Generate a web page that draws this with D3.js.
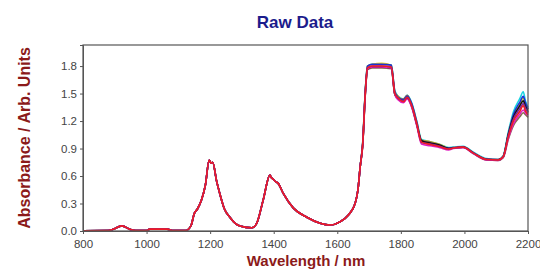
<!DOCTYPE html>
<html>
<head>
<meta charset="utf-8">
<style>
  body { margin: 0; background: #fff; }
  text { font-family: Arial, "Liberation Sans", sans-serif; }
</style>
</head>
<body>
<svg id="chart" width="540" height="271"></svg>
<script src="https://cdn.jsdelivr.net/npm/d3@7"></script>
<script>
    // shared part of all spectra (curves overlap up to ~1680 nm)
    const wlCommon = [800, 880, 895, 922, 950, 965, 1000, 1010, 1065, 1080, 1124, 1140, 1150, 1160, 1173, 1185,
        1197, 1203, 1208, 1220, 1231, 1245, 1262, 1280, 1294, 1331, 1346, 1367, 1388, 1393, 1399, 1405, 1414,
        1430, 1462, 1504, 1546, 1577, 1608, 1635, 1656, 1665, 1672];
    const absCommon = [0.003, 0.005, 0.02, 0.056, 0.015, 0.004, 0.005, 0.02, 0.02, 0.005, 0.006, 0.06, 0.19, 0.24,
        0.34, 0.5, 0.775, 0.74, 0.75, 0.55, 0.4, 0.24, 0.15, 0.08, 0.055, 0.035, 0.08, 0.34, 0.61, 0.58, 0.565,
        0.54, 0.52, 0.41, 0.25, 0.15, 0.085, 0.065, 0.1, 0.175, 0.3, 0.45, 0.7];

    // per-sample part, 1680 - 2200 nm
    const wlTail = [1680, 1688, 1695, 1710, 1740, 1770, 1781, 1792, 1808, 1820, 1834, 1850, 1865, 1892, 1923,
        1950, 1965, 1996, 2028, 2070, 2106, 2122, 2138, 2154, 2175, 2185, 2192, 2200];

    const sampleCyan    = [0.97, 1.53, 1.80, 1.82, 1.82, 1.81, 1.53, 1.47, 1.44, 1.48, 1.40, 1.20, 1.00, 0.975, 0.945, 0.91, 0.915, 0.925, 0.86, 0.79, 0.78, 0.82, 1.08, 1.30, 1.45, 1.52, 1.42, 1.35];
    const sampleYellow  = [0.96, 1.52, 1.80, 1.82, 1.83, 1.81, 1.52, 1.47, 1.43, 1.47, 1.38, 1.19, 0.99, 0.975, 0.945, 0.905, 0.91, 0.92, 0.855, 0.785, 0.78, 0.815, 1.06, 1.26, 1.39, 1.45, 1.39, 1.32];
    const sampleBrown   = [0.93, 1.48, 1.76, 1.78, 1.78, 1.77, 1.49, 1.45, 1.44, 1.48, 1.38, 1.17, 0.99, 0.97, 0.94, 0.90, 0.905, 0.915, 0.845, 0.775, 0.77, 0.80, 1.00, 1.15, 1.25, 1.29, 1.27, 1.24];
    const sampleBlue    = [0.96, 1.52, 1.80, 1.82, 1.82, 1.81, 1.52, 1.46, 1.43, 1.47, 1.39, 1.19, 0.98, 0.955, 0.93, 0.905, 0.91, 0.92, 0.855, 0.785, 0.78, 0.815, 1.06, 1.27, 1.41, 1.47, 1.40, 1.33];
    const sampleBlack   = [0.94, 1.49, 1.77, 1.79, 1.79, 1.78, 1.49, 1.44, 1.42, 1.45, 1.36, 1.16, 0.985, 0.96, 0.935, 0.90, 0.905, 0.915, 0.85, 0.78, 0.775, 0.81, 1.05, 1.24, 1.37, 1.42, 1.36, 1.30];
    const sampleMagenta = [0.94, 1.49, 1.77, 1.79, 1.79, 1.78, 1.49, 1.43, 1.40, 1.44, 1.35, 1.15, 0.95, 0.93, 0.91, 0.885, 0.90, 0.91, 0.845, 0.775, 0.77, 0.805, 1.01, 1.17, 1.28, 1.32, 1.29, 1.26];
    const samplePurple  = [0.95, 1.50, 1.78, 1.80, 1.80, 1.79, 1.50, 1.45, 1.42, 1.46, 1.37, 1.17, 0.965, 0.95, 0.925, 0.895, 0.905, 0.915, 0.85, 0.78, 0.775, 0.81, 1.04, 1.22, 1.34, 1.39, 1.34, 1.29];
    const sampleRed     = [0.95, 1.50, 1.78, 1.80, 1.80, 1.79, 1.50, 1.45, 1.41, 1.46, 1.37, 1.17, 0.97, 0.945, 0.92, 0.895, 0.905, 0.915, 0.85, 0.78, 0.775, 0.81, 1.03, 1.20, 1.31, 1.37, 1.31, 1.27];

    const samples = [sampleCyan, sampleYellow, sampleBrown, sampleBlue, sampleBlack, sampleMagenta, samplePurple, sampleRed];
    const sampleColors = ['#19d3e0', '#e8d21c', '#8a6a52', '#1c2fd6', '#111111', '#e01cc0', '#7a2a9a', '#ee1c24'];

    const xTicks = [800, 1000, 1200, 1400, 1600, 1800, 2000, 2200];
    const yTicks = [0.0, 0.3, 0.6, 0.9, 1.2, 1.5, 1.8];

    const plotL = 83, plotR = 528, plotT = 45, plotB = 231;

    const svg = d3.select('#chart');

    const x = d3.scaleLinear().domain([800, 2200]).range([plotL, plotR]);
    const y = d3.scaleLinear().domain([0, 2.03]).range([plotB, plotT]);

    // spectra
    const line = d3.line()
        .x(function(d) { return x(d[0]); })
        .y(function(d) { return y(d[1]); })
        .curve(d3.curveMonotoneX);

    const series = samples.map(function(tail) {
        const pts = wlCommon.map(function(w, i) { return [w, absCommon[i]]; });
        return pts.concat(wlTail.map(function(w, i) { return [w, tail[i]]; }));
    });

    svg.append('g')
        .selectAll('path')
        .data(series)
        .join('path')
        .attr('d', line)
        .attr('fill', 'none')
        .attr('stroke', function(d, i) { return sampleColors[i]; })
        .attr('stroke-width', 1.6)
        .attr('stroke-linejoin', 'round');

    // box
    svg.append('rect')
        .attr('x', plotL).attr('y', plotT)
        .attr('width', plotR - plotL).attr('height', plotB - plotT)
        .attr('fill', 'none')
        .attr('stroke', '#555')
        .attr('stroke-width', 1.2);

    // axes
    const xAxis = svg.append('g')
        .attr('transform', 'translate(0,' + plotB + ')')
        .call(d3.axisBottom(x).tickValues(xTicks).tickFormat(d3.format('d')).tickSize(3).tickPadding(6));
    const yAxis = svg.append('g')
        .attr('transform', 'translate(' + plotL + ',0)')
        .call(d3.axisLeft(y).tickValues(yTicks).tickFormat(d3.format('.1f')).tickSize(3).tickPadding(3));

    [xAxis, yAxis].forEach(function(a) {
        a.select('.domain').attr('stroke', '#555');
        a.selectAll('.tick line').attr('stroke', '#555');
        a.selectAll('.tick text')
            .attr('fill', '#444')
            .style('font-size', '11.5px')
            .style('font-family', 'Arial, "Liberation Sans", sans-serif');
    });

    // titles
    svg.append('text')
        .attr('x', 295).attr('y', 28)
        .attr('text-anchor', 'middle')
        .attr('fill', '#1c1c8c')
        .style('font-size', '17px')
        .style('font-weight', 'bold')
        .text('Raw Data');

    svg.append('text')
        .attr('x', 306).attr('y', 266)
        .attr('text-anchor', 'middle')
        .attr('fill', '#8b1a1a')
        .style('font-size', '15px')
        .style('font-weight', 'bold')
        .text('Wavelength / nm');

    svg.append('text')
        .attr('transform', 'translate(30,138) rotate(-90)')
        .attr('text-anchor', 'middle')
        .attr('fill', '#8b1a1a')
        .style('font-size', '16px')
        .style('font-weight', 'bold')
        .text('Absorbance / Arb. Units');
</script>
</body>
</html>
